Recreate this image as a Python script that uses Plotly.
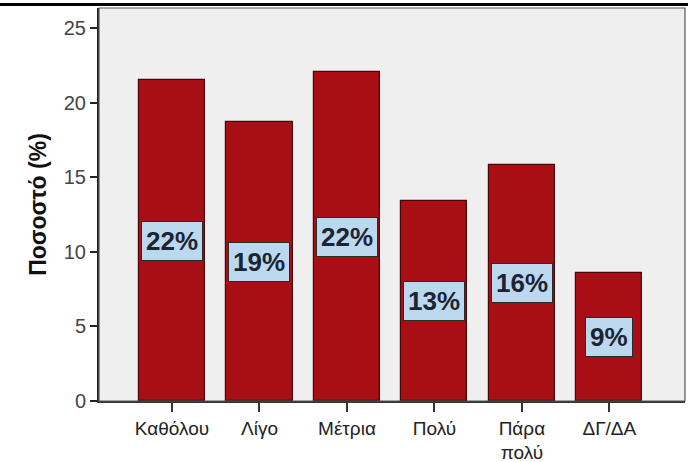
import plotly.graph_objects as go

categories = ["Καθόλου", "Λίγο", "Μέτρια", "Πολύ", "Πάρα<br>πολύ", "ΔΓ/ΔΑ"]
values = [21.5, 18.7, 22.05, 13.4, 15.8, 8.6]
labels = ["22%", "19%", "22%", "13%", "16%", "9%"]
y_ticks = [0, 5, 10, 15, 20, 25]

x_idx = list(range(len(categories)))

fig = go.Figure()
fig.add_trace(go.Bar(
    x=x_idx, y=values, width=0.755,
    marker=dict(color="#a80f15", line=dict(color="#4a0608", width=1.2)),
    hoverinfo="skip",
))

for i, (v, lab) in enumerate(zip(values, labels)):
    fig.add_annotation(
        x=i, y=v / 2, text="<b>" + lab + "</b>", showarrow=False,
        font=dict(family="Liberation Sans, Arial", size=26, color="#1b2433"),
        bgcolor="#bcd8ee", bordercolor="#2a2a2a", borderwidth=1, borderpad=4,
        xref="x", yref="y",
    )

fig.update_layout(
    width=688, height=462,
    margin=dict(l=99, r=3, t=8, b=61),
    paper_bgcolor="white", plot_bgcolor="#efefef",
    showlegend=False,
    font=dict(family="Liberation Sans, Arial", color="#222222"),
    bargap=0,
)
fig.update_xaxes(
    range=[-0.835, 5.865], tickvals=x_idx, ticktext=categories,
    ticks="outside", ticklen=9, tickwidth=1.5, tickcolor="#333333",
    showline=True, linecolor="#333333", linewidth=1.5,
    showgrid=False, zeroline=False, automargin=False,
    tickfont=dict(size=19, color="#222222"),
)
fig.update_yaxes(
    range=[0, 26.34], tickvals=y_ticks,
    ticks="outside", ticklen=7, tickwidth=1.5, tickcolor="#222222",
    showline=True, linecolor="#222222", linewidth=2,
    showgrid=False, zeroline=False, automargin=False,
    tickfont=dict(size=20, color="#444444"),
    title=dict(text="<b>Ποσοστό (%)</b>", font=dict(size=23, color="#111111"), standoff=11),
)

# plot frame
fig.add_shape(type="rect", xref="paper", yref="paper", x0=0, x1=1, y0=0, y1=1,
              line=dict(color="#555555", width=1.2), fillcolor="rgba(0,0,0,0)", layer="above")
# top black rule
fig.add_shape(type="line", xref="paper", yref="paper",
              x0=-99 / 586, x1=1 + 3 / 586, y0=1 + 3.5 / 393, y1=1 + 3.5 / 393,
              line=dict(color="black", width=3))

fig.write_html("out.html", config={"displayModeBar": False})

# remove the default page margin so the figure fills the window exactly
with open("out.html", encoding="utf-8") as f:
    html = f.read()
html = html.replace("<head>", "<head><style>html,body{margin:0;padding:0;overflow:hidden;}</style>", 1)
with open("out.html", "w", encoding="utf-8") as f:
    f.write(html)
